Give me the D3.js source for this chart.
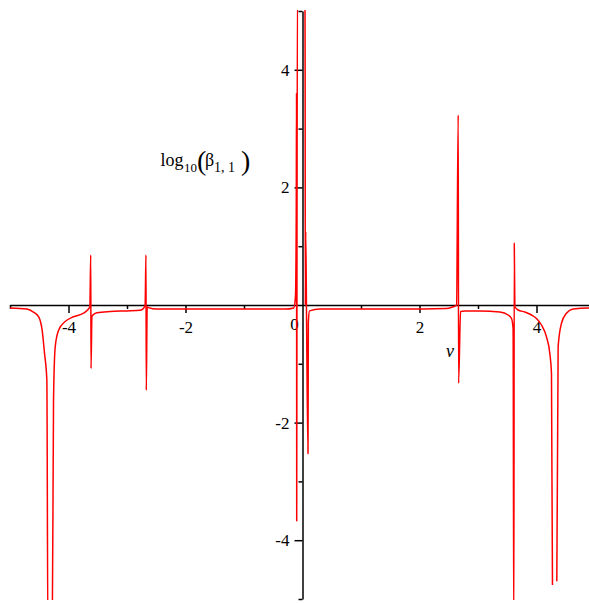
<!DOCTYPE html>
<html>
<head>
<meta charset="utf-8">
<script src="https://cdn.jsdelivr.net/npm/d3@7"></script>
<style>
  body { margin: 0; background: #fff; }
  text { font-family: "Liberation Serif", "Times New Roman", serif; }
</style>
</head>
<body>
<script>
const vVals = [
  -5.00, -4.71, -4.60, -4.51, -4.45, -4.41, -4.37, -4.352, -4.278, -4.256,
  -4.227, -4.17, -4.056, -3.915, -3.744, -3.675, -3.635, -3.620, -3.615, -3.600,
  -3.584, -3.515, -3.288, -3.003, -2.775, -2.719, -2.690, -2.676, -2.670, -2.655,
  -2.633, -2.49, -1.0, -0.30, -0.15, -0.12, -0.107, -0.102, -0.099, -0.094,
  -0.085, 0.042, 0.045, 0.048, 0.055, 0.070, 0.094, 0.100, 0.120, 0.30,
  1.665, 2.463, 2.576, 2.633, 2.662, 2.668, 2.702, 2.775, 3.03, 3.373,
  3.515, 3.573, 3.600, 3.612, 3.620, 3.630, 3.686, 3.80, 3.915, 4.00,
  4.085, 4.17, 4.227, 4.256, 4.273, 4.31, 4.347, 4.37, 4.427, 4.512,
  4.625, 4.89, 5.00
];
const logBeta = [
  -0.05, -0.07, -0.12, -0.20, -0.43, -0.82, -1.28, -5.6, -5.6, -1.62,
  -0.71, -0.43, -0.28, -0.20, -0.14, -0.085, -0.03, 0.85, -1.08, -0.20,
  -0.17, -0.13, -0.11, -0.10, -0.09, -0.06, 0.0, 0.85, -1.45, -0.03,
  -0.045, -0.07, -0.07, -0.07, -0.05, 0.15, 1.5, 3.6, -3.67, 1.2,
  5.6, 5.6, 3.96, 0.0, 1.25, -0.3, -2.53, -0.3, -0.1, -0.07,
  -0.07, -0.06, -0.03, 0.0, 3.23, -1.33, -0.11, -0.10, -0.10, -0.12,
  -0.17, -0.23, -0.40, -5.6, 1.05, -0.03, -0.085, -0.12, -0.17, -0.23,
  -0.34, -0.54, -0.82, -1.16, -4.76, null, -4.70, -0.71, -0.31, -0.14,
  -0.07, -0.05, -0.05
];
const majorTicks = [-4, -2, 2, 4];
const minorTicks = [-5, -3, -1, 1, 3, 5];

const width = 589, height = 603;
const x = d3.scaleLinear().domain([-5, 5]).range([10, 595]);
const y = d3.scaleLinear().domain([-5, 5]).range([599, 11]);

const svg = d3.select("body").append("svg")
  .attr("width", width)
  .attr("height", height);

svg.append("defs").append("clipPath")
  .attr("id", "clip")
  .append("rect")
  .attr("x", 10).attr("y", 10)
  .attr("width", 585).attr("height", 590);

const fmt = d => d < 0 ? "-" + Math.abs(d) : String(d);

// x axis
const gx = svg.append("g").attr("transform", `translate(0,${y(0)})`);
gx.call(d3.axisBottom(x).tickValues(minorTicks).tickSize(4).tickSizeOuter(0).tickFormat(""));
gx.append("g").call(d3.axisBottom(x).tickValues(majorTicks).tickSize(8).tickSizeOuter(0)
  .tickPadding(8).tickFormat(fmt));

// y axis
const gy = svg.append("g").attr("transform", `translate(${x(0)},0)`);
gy.call(d3.axisLeft(y).tickValues(minorTicks).tickSize(4).tickSizeOuter(0).tickFormat(""));
gy.append("g").call(d3.axisLeft(y).tickValues(majorTicks).tickSize(8).tickSizeOuter(0)
  .tickPadding(5).tickFormat(fmt));

svg.selectAll(".domain").attr("stroke", "#000").attr("stroke-width", 1.5);
svg.selectAll(".tick line").attr("stroke", "#000").attr("stroke-width", 1.5);
svg.selectAll(".tick text")
  .attr("fill", "#000")
  .style("font-family", '"Liberation Serif", "Times New Roman", serif')
  .style("font-size", "17px");
gx.selectAll(".domain").filter((d, i) => i > 0).remove();
gy.selectAll(".domain").filter((d, i) => i > 0).remove();

// the single 0 label
svg.append("text")
  .attr("x", x(0) - 8).attr("y", 330)
  .attr("text-anchor", "middle")
  .style("font-size", "17px")
  .text("0");

// curve
const pts = vVals.map((v, i) => ({ v: v, b: logBeta[i] }));
svg.append("path")
  .datum(pts)
  .attr("clip-path", "url(#clip)")
  .attr("fill", "none")
  .attr("stroke", "#ff0000")
  .attr("stroke-width", 1.5)
  .attr("stroke-linejoin", "round")
  .attr("d", d3.line()
    .defined(d => d.b !== null)
    .curve(d3.curveMonotoneX)
    .x(d => x(d.v))
    .y(d => y(d.b)));

// axis labels
svg.append("text")
  .attr("x", 446).attr("y", 357)
  .style("font-size", "18px")
  .style("font-style", "italic")
  .text("v");

const lab = svg.append("g");
lab.append("text").attr("x", 160.5).attr("y", 166).style("font-size", "18px").text("log");
lab.append("text").attr("x", 184).attr("y", 172).style("font-size", "13px").text("10");
lab.append("text").attr("x", 197).attr("y", 170).style("font-size", "28px").text("(");
lab.append("text").attr("x", 205).attr("y", 166).style("font-size", "18px").text("β");
lab.append("text").attr("x", 214).attr("y", 172).style("font-size", "14px").text("1, 1");
lab.append("text").attr("x", 241).attr("y", 170).style("font-size", "28px").text(")");
</script>
</body>
</html>
